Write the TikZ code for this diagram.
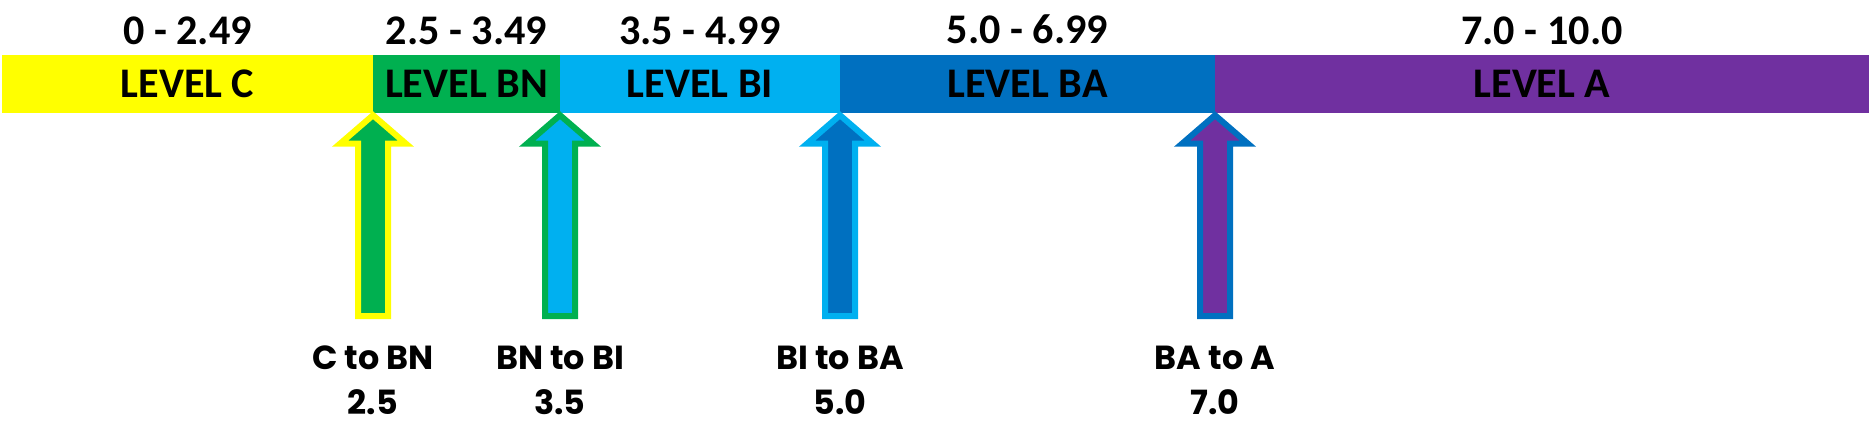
\documentclass[tikz,border=0pt]{standalone}
\usepackage{fontspec}
\setmainfont{Carlito}
\newfontfamily\labfont{Poppins}
\usepackage{tikz}
\usetikzlibrary{positioning}
\definecolor{lvc}{HTML}{FFFF00}
\definecolor{lvbn}{HTML}{00B050}
\definecolor{lvbi}{HTML}{00B0F0}
\definecolor{lvba}{HTML}{0070C0}
\definecolor{lva}{HTML}{7030A0}
\tikzset{
  lvl/.style={minimum height=0.577cm, inner sep=0, outer sep=0, font=\fontsize{12}{14}\selectfont\bfseries},
  rng/.style={inner sep=0, font=\fontsize{12}{14}\selectfont\bfseries},
  cut/.style={inner sep=0, align=center, font=\labfont\bfseries\fontsize{9.5}{12.8}\selectfont}
}

\begin{document}
\begin{tikzpicture}
\useasboundingbox (0,0) rectangle (18.7,4.46);
\node[lvl, fill=lvc, minimum width=3.71cm, anchor=north west] (c) at (0.02,3.91) {LEVEL C};
\node[lvl, fill=lvbn, minimum width=1.87cm, right=0cm of c] (bn) {LEVEL BN};
\node[lvl, fill=lvbi, minimum width=2.80cm, right=0cm of bn] (bi) {LEVEL BI};
\node[lvl, fill=lvba, minimum width=3.75cm, right=0cm of bi] (ba) {LEVEL BA};
\node[lvl, fill=lva, minimum width=6.54cm, right=0cm of ba] (a) {LEVEL A};
\node[rng, above=0.1cm of c] (rc) {0 - 2.49};
\node[rng, above=0.1cm of bn] (rbn) {2.5 - 3.49};
\node[rng, above=0.1cm of bi] (rbi) {3.5 - 4.99};
\node[rng, above=0.1cm of ba] (rba) {5.0 - 6.99};
\node[rng, above=0.1cm of a] (ra) {7.0 - 10.0};
\foreach \from/\to/\lab/\val in {c/bn/C to BN/2.5, bn/bi/BN to BI/3.5, bi/ba/BI to BA/5.0, ba/a/BA to A/7.0}
{
  \draw[line width=0.06cm, draw=lv\from, fill=lv\to] ([yshift=-0.025cm]\from.south east) -- ++(0.33,-0.285) -- ++(-0.18,0) -- ++(0,-1.725) -- ++(-0.15,0) coordinate (t\from) -- ++(-0.15,0) -- ++(0,1.725) -- ++(-0.18,0) -- cycle;
  \node[cut, below=0.29cm of t\from] (l\from) {\lab\\\val};
}
\end{tikzpicture}
\end{document}
